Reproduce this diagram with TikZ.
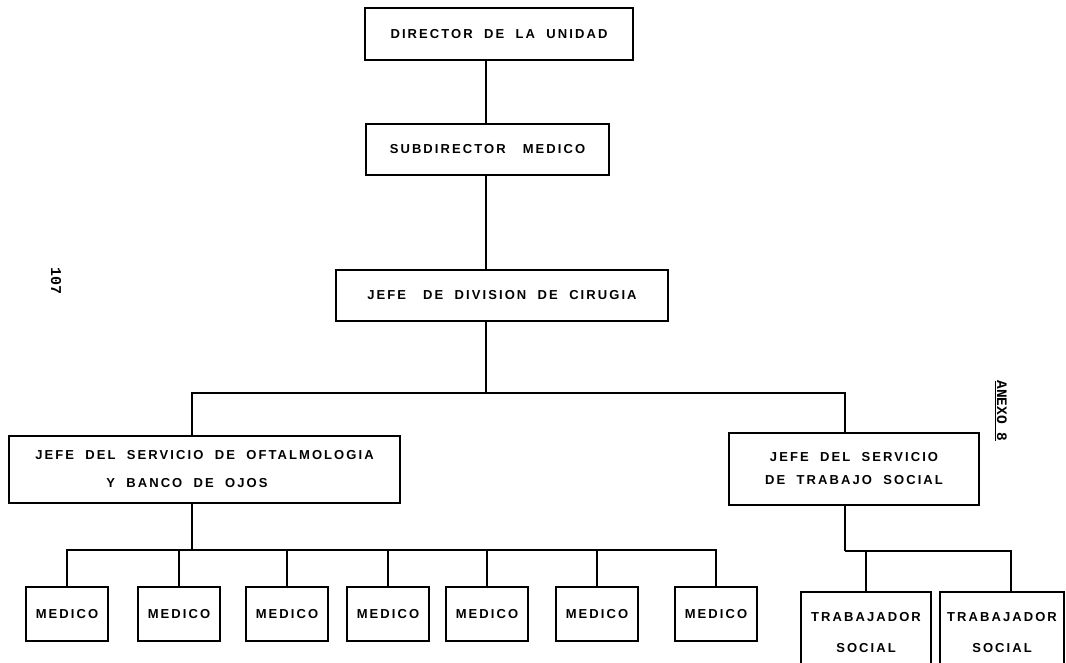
\documentclass[tikz,border=0pt]{standalone}
\usepackage{fontspec}
\newfontfamily\lett{Liberation Sans Bold}[LetterSpace=16]
\newfontfamily\typew{Liberation Mono Bold}
\begin{document}
\begin{tikzpicture}[x=1pt,y=-1pt,
  box/.style={draw, line width=1.4pt, inner sep=0pt, align=center,
    font=\lett\fontsize{13}{15.6}\selectfont},
  conn/.style={line width=1.7pt},
  medbox/.style={box, minimum width=82pt, minimum height=54pt}]
\useasboundingbox (0,0) rectangle (1066,662);
\fill[white] (0,0) rectangle (1066,662);

\node[box, minimum width=268pt, minimum height=52pt] (dir) at (499,34) {DIRECTOR\ \ DE\ \ LA\ \ UNIDAD};
\node[box, minimum width=243pt, minimum height=51pt] (sub) at (487.5,149.5) {SUBDIRECTOR\ \ \ MEDICO};
\node[box, minimum width=332pt, minimum height=51pt] (div) at (502,295.5) {JEFE\ \ \ DE\ \ DIVISION\ \ DE\ \ CIRUGIA};
\node[box, minimum width=391pt, minimum height=67pt, align=left] (oft) at (204.5,469.5)
  {JEFE\ \ DEL\ \ SERVICIO\ \ DE\ \ OFTALMOLOGIA\\[12.4pt]\hspace*{71pt}Y\ \ BANCO\ \ DE\ \ OJOS};
\node[box, minimum width=250pt, minimum height=72pt] (ts) at (854,469)
  {JEFE\ \ DEL\ \ SERVICIO\\[7.4pt]DE\ \ TRABAJO\ \ SOCIAL};

\node[medbox] (m1) at (67,614) {MEDICO};
\node[medbox] (m2) at (179,614) {MEDICO};
\node[medbox] (m3) at (287,614) {MEDICO};
\node[medbox] (m4) at (388,614) {MEDICO};
\node[medbox] (m5) at (487,614) {MEDICO};
\node[medbox] (m6) at (597,614) {MEDICO};
\node[medbox] (m7) at (716,614) {MEDICO};

\node[box, minimum width=130pt, minimum height=81pt] (t1) at (866,632.5) {TRABAJADOR\\[15.4pt]SOCIAL};
\node[box, minimum width=124pt, minimum height=81pt] (t2) at (1002,632.5) {TRABAJADOR\\[15.4pt]SOCIAL};

\node[rotate=-90, font=\typew\fontsize{15}{18}\selectfont] (pg) at (56,281) {107};
\node[rotate=-90, font=\typew\fontsize{14.5}{17}\selectfont] (anexo) at (1001,411) {\underline{ANEXO 8}};

\coordinate (bar1) at (486,393);
\coordinate (mbar) at (192,550);
\coordinate (tbar) at (845,551);

\draw[conn] ([xshift=-13pt]dir.south) -- ([xshift=-13pt]dir.south |- sub.north);
\draw[conn] ([xshift=-1.5pt]sub.south) -- ([xshift=-1.5pt]sub.south |- div.north);
\draw[conn] ([xshift=-16pt]div.south) -- (bar1);
\draw[conn] ([xshift=-12.5pt]oft.north) |- (bar1) -| ([xshift=-9pt]ts.north);
\draw[conn] ([xshift=-12.5pt]oft.south) -- (mbar);
\foreach \m in {m1,m2,m3,m4,m5,m6,m7} {\draw[conn] (\m.north) |- (mbar);}
\draw[conn] ([xshift=-9pt]ts.south) -- (tbar);
\draw[conn] (t1.north) |- (tbar);
\draw[conn] ([xshift=9pt]t2.north) |- (tbar);
\end{tikzpicture}
\end{document}
